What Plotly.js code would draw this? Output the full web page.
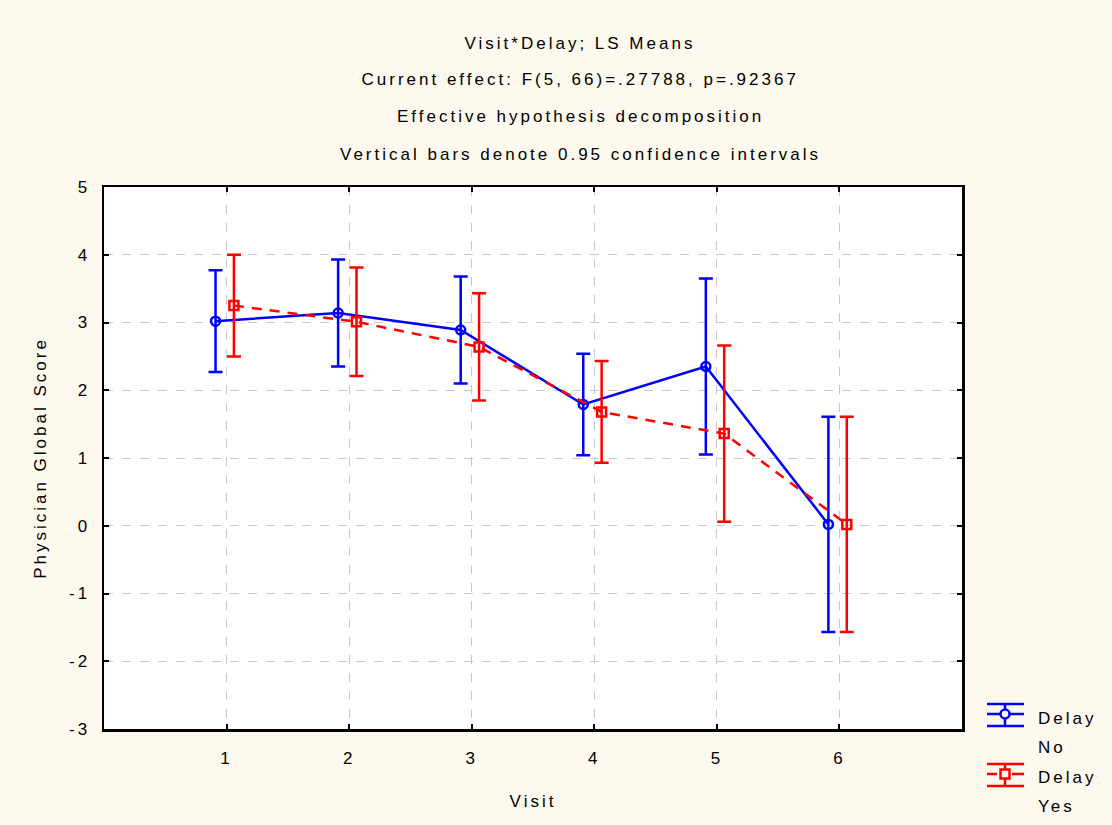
<!DOCTYPE html>
<html>
<head>
<meta charset="utf-8">
<script src="https://cdn.plot.ly/plotly-3.0.1.min.js"></script>
<style>
  html, body { margin: 0; padding: 0; background: #fef9ee; }
  #chart { width: 1112px; height: 825px; }
  .main-svg text { letter-spacing: 3px; }
</style>
</head>
<body>
<div id="chart"></div>
<script>
// Visit*Delay LS means with 95% confidence half-widths
const visits = [1, 2, 3, 4, 5, 6];
const visitLabels = ['1', '2', '3', '4', '5', '6'];

const scoreTicks = [-3, -2, -1, 0, 1, 2, 3, 4, 5];
const scoreTickLabels = ['-3', '-2', '-1', '0', '1', '2', '3', '4', '5'];

const delayNoMean = [3.02, 3.14, 2.89, 1.79, 2.35, 0.02];
const delayNoCI   = [0.75, 0.79, 0.79, 0.75, 1.30, 1.59];

const delayYesMean = [3.25, 3.01, 2.64, 1.68, 1.36, 0.02];
const delayYesCI   = [0.75, 0.80, 0.79, 0.75, 1.30, 1.59];

const seriesNames = [['Delay', 'No'], ['Delay', 'Yes']];

const titleLines = [
  'Visit*Delay; LS Means',
  'Current effect: F(5, 66)=.27788, p=.92367',
  'Effective hypothesis decomposition',
  'Vertical bars denote 0.95 confidence intervals'
];

// small horizontal dodge so the two groups' bars don't overlap
const dodge = (xs, d) => xs.map(v => v + d);

const blue = '#0000ff';
const red = '#ff0000';

const traces = [
  {
    type: 'scatter', mode: 'lines+markers',
    name: seriesNames[0].join(' '),
    x: dodge(visits, -0.09), y: delayNoMean,
    line: { color: blue, width: 2.5 },
    marker: { symbol: 'circle-open', size: 9, color: blue, line: { width: 2.5, color: blue } },
    error_y: { type: 'data', array: delayNoCI, visible: true, color: blue, thickness: 2.5, width: 7 }
  },
  {
    type: 'scatter', mode: 'lines+markers',
    name: seriesNames[1].join(' '),
    x: dodge(visits, 0.06), y: delayYesMean,
    line: { color: red, width: 2.5, dash: '10px,8px' },
    marker: { symbol: 'square-open', size: 9, color: red, line: { width: 2.5, color: red } },
    error_y: { type: 'data', array: delayYesCI, visible: true, color: red, thickness: 2.5, width: 7 }
  }
];

const font = { family: 'Liberation Sans, Arial, sans-serif', size: 17, color: '#000' };

// plot box in pixels: left 104, right 962, top 187, bottom 729
const L = 104, R = 962, T = 187, B = 729;
const px = p => (p - L) / (R - L);
const py = p => (B - p) / (B - T);

const annotations = titleLines.map((t, i) => ({
  text: t, xref: 'paper', yref: 'paper',
  x: px(580), y: py(43 + 37 * i),
  xanchor: 'center', yanchor: 'middle',
  showarrow: false, font: font
}));

// hand-built legend: error-bar glyph plus two-line label
const shapes = [];
function legendGlyph(yMid, color, dashed, symbol) {
  const ln = { color: color, width: 2.5 };
  const x0 = 987, x1 = 1024, xc = 1005;
  shapes.push({ type: 'line', xref: 'paper', yref: 'paper', x0: px(x0), x1: px(x1), y0: py(yMid - 10), y1: py(yMid - 10), line: ln });
  shapes.push({ type: 'line', xref: 'paper', yref: 'paper', x0: px(x0), x1: px(x1), y0: py(yMid + 12), y1: py(yMid + 12), line: ln });
  shapes.push({ type: 'line', xref: 'paper', yref: 'paper', x0: px(xc), x1: px(xc), y0: py(yMid - 10), y1: py(yMid + 12), line: ln });
  if (dashed) {
    shapes.push({ type: 'line', xref: 'paper', yref: 'paper', x0: px(x0), x1: px(997), y0: py(yMid), y1: py(yMid), line: ln });
    shapes.push({ type: 'line', xref: 'paper', yref: 'paper', x0: px(1012), x1: px(x1), y0: py(yMid), y1: py(yMid), line: ln });
  } else {
    shapes.push({ type: 'line', xref: 'paper', yref: 'paper', x0: px(x0), x1: px(x1), y0: py(yMid), y1: py(yMid), line: ln });
  }
  shapes.push({
    type: symbol, xref: 'paper', yref: 'paper',
    x0: px(xc - 4.5), x1: px(xc + 4.5), y0: py(yMid - 4.5), y1: py(yMid + 4.5),
    line: ln, fillcolor: '#fef9ee'
  });
}
legendGlyph(714, blue, false, 'circle');
legendGlyph(774, red, true, 'rect');

const legendRows = [718, 747, 777, 806];
[seriesNames[0][0], seriesNames[0][1], seriesNames[1][0], seriesNames[1][1]].forEach((t, i) => {
  annotations.push({
    text: t, xref: 'paper', yref: 'paper',
    x: px(1036), y: py(legendRows[i]),
    xanchor: 'left', yanchor: 'middle', align: 'left',
    showarrow: false, font: font
  });
});

const layout = {
  width: 1112, height: 825,
  paper_bgcolor: '#fef9ee',
  plot_bgcolor: '#ffffff',
  margin: { l: L, r: 1112 - R, t: T, b: 825 - B },
  font: font,
  showlegend: false,
  xaxis: {
    range: [0, 7],
    tickvals: visits, ticktext: visitLabels,
    ticks: 'inside', ticklen: 5, tickwidth: 2, tickcolor: '#000',
    showline: true, linewidth: 2.5, linecolor: '#000', mirror: 'ticks',
    showgrid: true, gridcolor: '#c8c8c8', griddash: 'dash', gridwidth: 1,
    zeroline: false,
    title: { text: 'Visit', font: font, standoff: 28 },
    tickfont: font, ticklabelstandoff: 12
  },
  yaxis: {
    range: [-3, 5],
    tickvals: scoreTicks, ticktext: scoreTickLabels,
    ticks: 'inside', ticklen: 5, tickwidth: 2, tickcolor: '#000',
    showline: true, linewidth: 2.5, linecolor: '#000', mirror: 'ticks',
    showgrid: true, gridcolor: '#c8c8c8', griddash: 'dash', gridwidth: 1,
    zeroline: false,
    title: { text: 'Physician Global Score', font: font, standoff: 24 },
    tickfont: font, ticklabelstandoff: 8
  },
  shapes: shapes,
  annotations: annotations
};

Plotly.newPlot('chart', traces, layout, { displayModeBar: false, staticPlot: true });
</script>
</body>
</html>
